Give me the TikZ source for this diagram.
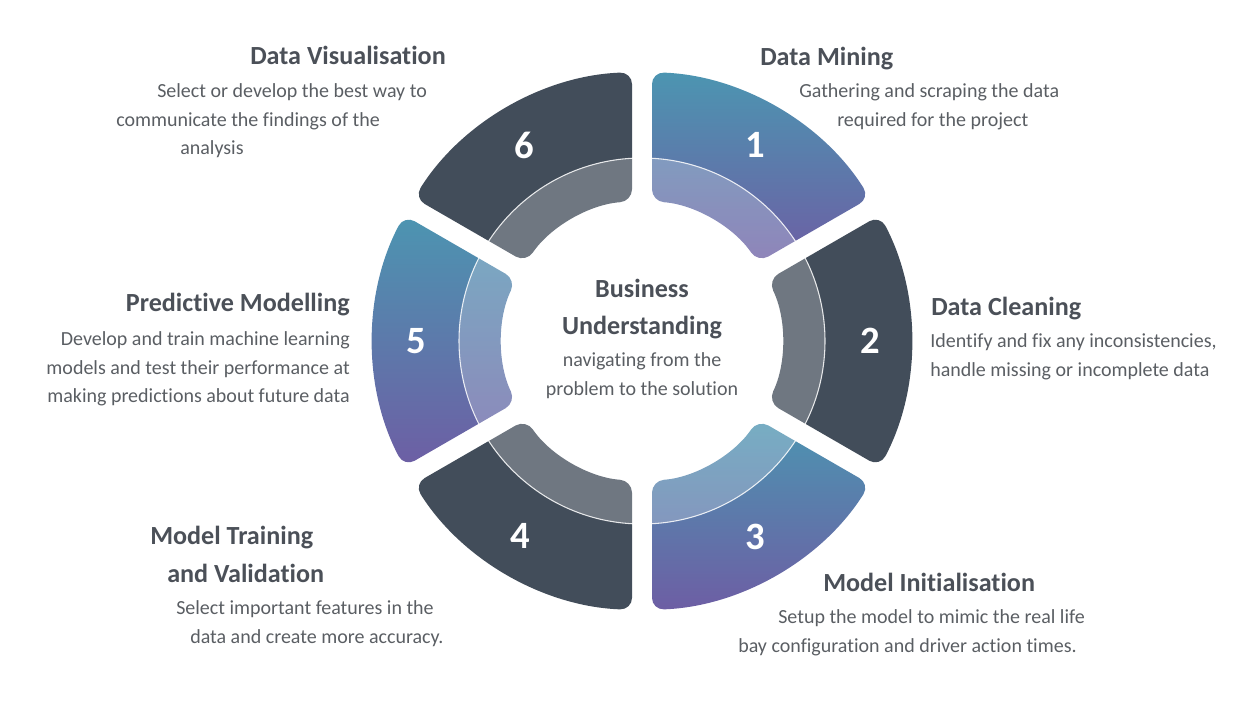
\documentclass[tikz,border=0pt]{standalone}
\usepackage{fontspec}
\setmainfont{Carlito}[Ligatures=NoCommon]
\usepackage{xcolor}
\usepackage{tikz}

\definecolor{segdark}{HTML}{424D5A}
\definecolor{segblue}{HTML}{4C95B1}
\definecolor{segpurple}{HTML}{6D5EA4}
\definecolor{headgray}{HTML}{4B5058}
\definecolor{bodygray}{HTML}{5A5E63}

% one piece of the ring: #1 = centre angle, #2 = fill options
\newcommand{\ringpiece}[2]{%
  \path[rounded corners=9pt,#2]
    (#1-30+2.13:269) arc[start angle=#1-30+2.13, end angle=#1+30-2.13, radius=269]
    -- (#1+30-4.1:140) arc[start angle=#1+30-4.1, end angle=#1-30+4.1, radius=140]
    -- cycle;}

\begin{document}
\begin{tikzpicture}[x=0.75pt,y=-0.75pt,
    headtext/.style={font=\bfseries\fontsize{19.6}{23}\selectfont, text=headgray, inner sep=0pt},
    bodytext/.style={font=\fontsize{15}{18}\selectfont, text=bodygray, inner sep=0pt},
    num/.style={font=\bfseries\fontsize{29}{34}\selectfont, text=white}]
  \useasboundingbox (0,0) rectangle (1260,712);

  \begin{scope}[shift={(642,341)}]
    \ringpiece{-60}{top color=segblue, bottom color=segpurple}
    \ringpiece{0}{fill=segdark}
    \ringpiece{60}{top color=segblue, bottom color=segpurple}
    \ringpiece{120}{fill=segdark}
    \ringpiece{180}{top color=segblue, bottom color=segpurple}
    \ringpiece{240}{fill=segdark}
    \fill[white, fill opacity=0.24] (0,0) circle[radius=183];
    \draw[white, opacity=0.85, line width=0.8pt] (0,0) circle[radius=183];

    \node[num] (n1) at (-60:226) {1};
    \node[num] (n2) at (0:228) {2};
    \node[num] (n3) at (60:226) {3};
    \node[num] (n4) at (122:230) {4};
    \node[num] (n5) at (180:226) {5};
    \node[num] (n6) at (239:228) {6};
  \end{scope}

  % centre
  \node[headtext, anchor=base] (bus1) at (642,298) {Business};
  \node[headtext, anchor=base] (bus2) at (642,335) {Understanding};
  \node[bodytext, anchor=base] (bus3) at (642,367) {navigating from the};
  \node[bodytext, anchor=base] (bus4) at (642,396) {problem to the solution};

  % 1
  \node[headtext, anchor=base west] (mine) at (760,66) {Data Mining};
  \node[bodytext, anchor=base west] (mine1) at (799,98) {Gathering and scraping the data};
  \node[bodytext, anchor=base west] (mine2) at (837,127) {required for the project};

  % 2
  \node[headtext, anchor=base west] (clean) at (931,316) {Data Cleaning};
  \node[bodytext, anchor=base west] (clean1) at (930,348) {Identify and fix any inconsistencies,};
  \node[bodytext, anchor=base west] (clean2) at (930,377) {handle missing or incomplete data};

  % 3
  \node[headtext, anchor=base west] (init) at (823,591) {Model Initialisation};
  \node[bodytext, anchor=base west] (init1) at (778,623) {Setup the model to mimic the real life};
  \node[bodytext, anchor=base west] (init2) at (738,652) {bay configuration and driver action times.};

  % 4
  \node[headtext, anchor=base west] (train) at (150,544) {Model Training};
  \node[headtext, anchor=base west] (train0) at (167,582) {and Validation};
  \node[bodytext, anchor=base west] (train1) at (176,614) {Select important features in the};
  \node[bodytext, anchor=base west] (train2) at (190,643) {data and create more accuracy.};

  % 5
  \node[headtext, anchor=base east] (pred) at (350,312) {Predictive Modelling};
  \node[bodytext, anchor=base east] (pred1) at (350,346) {Develop and train machine learning};
  \node[bodytext, anchor=base east] (pred2) at (350,375) {models and test their performance at};
  \node[bodytext, anchor=base east] (pred3) at (350,403) {making predictions about future data};

  % 6
  \node[headtext, anchor=base west] (vis) at (250,65) {Data Visualisation};
  \node[bodytext, anchor=base west] (vis1) at (157,98) {Select or develop the best way to};
  \node[bodytext, anchor=base west] (vis2) at (116,127) {communicate the findings of the};
  \node[bodytext, anchor=base west] (vis3) at (180,155) {analysis};
\end{tikzpicture}
\end{document}
